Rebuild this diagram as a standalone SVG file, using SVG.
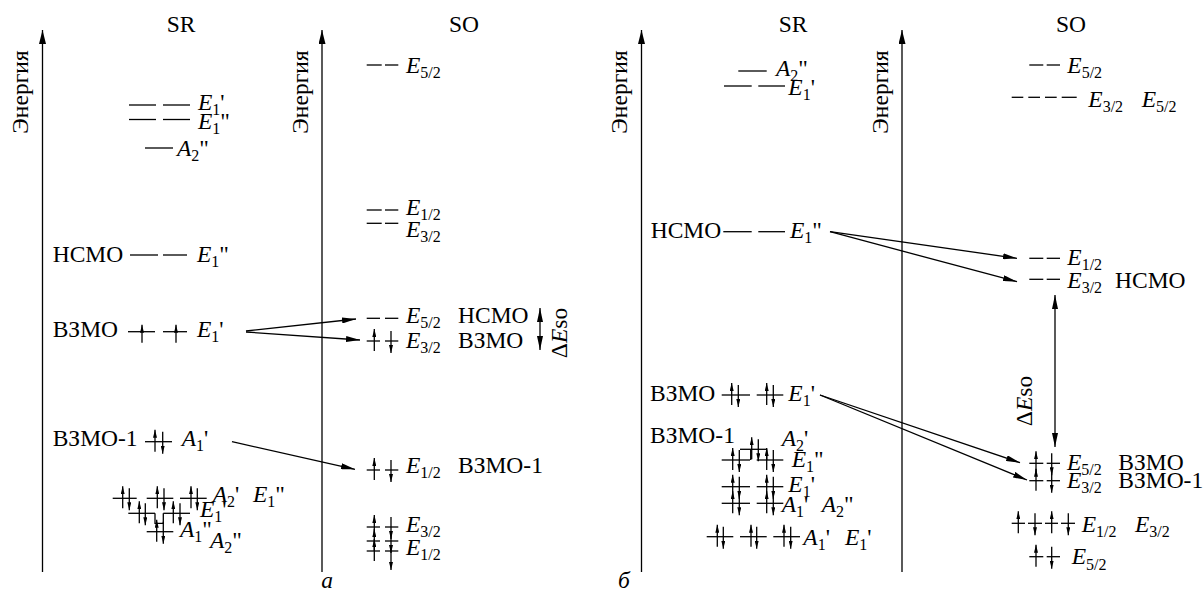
<svg xmlns="http://www.w3.org/2000/svg" width="1204" height="594" viewBox="0 0 1204 594" font-family="'Liberation Serif', 'Times New Roman', serif">
<style>
text{font-family:'Liberation Serif','Times New Roman',serif;font-size:23.5px;fill:#000}
.i{font-style:italic}
.s{font-size:16px}
line,path.l{stroke:#000;stroke-width:1.3;fill:none}
.ax{marker-end:url(#axh)}
.cn{marker-end:url(#ah)}
.dbl{marker-start:url(#ah);marker-end:url(#ah)}
.sp{marker-end:url(#sh)}
</style>
<defs>
<marker id="axh" markerUnits="userSpaceOnUse" markerWidth="15" markerHeight="7" refX="14" refY="3.5" orient="auto"><path d="M0,0 L14,3.5 L0,7 z" fill="#000"/></marker>
<marker id="ah" markerUnits="userSpaceOnUse" markerWidth="15" markerHeight="6" refX="14" refY="3" orient="auto-start-reverse"><path d="M0,0 L14,3 L0,6 z" fill="#000"/></marker>
<marker id="sh" markerUnits="userSpaceOnUse" markerWidth="8" markerHeight="4" refX="8" refY="2" orient="auto"><path d="M0,0 L8,2 L0,4 z" fill="#000"/></marker>
<line id="u" class="sp" x1="0" y1="10" x2="0" y2="-12"/>
<line id="d" class="sp" x1="0" y1="-10" x2="0" y2="12"/>
<line id="u2" class="sp" x1="0" y1="11" x2="0" y2="-7"/>
</defs>

<!-- Panel a axes -->
<g id="axis-a-sr">
<line class="ax" x1="42.5" y1="572" x2="42.5" y2="30"/>
<text transform="translate(28,92) rotate(-90)" text-anchor="middle">Энергия</text>
<text x="181" y="32" text-anchor="middle">SR</text>
</g>
<g id="axis-a-so">
<line class="ax" x1="322" y1="572" x2="322" y2="30"/>
<text transform="translate(307.5,92) rotate(-90)" text-anchor="middle">Энергия</text>
<text x="464" y="32" text-anchor="middle">SO</text>
</g>
<text x="327" y="588" class="i" text-anchor="middle">а</text>

<!-- Panel a SR levels -->
<g id="a-sr-e1p-top">
<line x1="129" y1="105" x2="156" y2="105"/><line x1="163" y1="105" x2="190" y2="105"/>
<text x="198" y="110"><tspan class="i">E</tspan><tspan class="s" dy="5">1</tspan><tspan dy="-5">'</tspan></text>
</g>
<g id="a-sr-e1pp-top">
<line x1="129" y1="119.5" x2="156" y2="119.5"/><line x1="163" y1="119.5" x2="190" y2="119.5"/>
<text x="198" y="129"><tspan class="i">E</tspan><tspan class="s" dy="5">1</tspan><tspan dy="-5">"</tspan></text>
</g>
<g id="a-sr-a2pp-top">
<line x1="145" y1="148" x2="173" y2="148"/>
<text x="177" y="156"><tspan class="i">A</tspan><tspan class="s" dy="5">2</tspan><tspan dy="-5">"</tspan></text>
</g>
<g id="a-sr-lumo">
<text x="52.7" y="262">НСМО</text>
<line x1="130" y1="255" x2="158" y2="255"/><line x1="163" y1="255" x2="187" y2="255"/>
<text x="197" y="262"><tspan class="i">E</tspan><tspan class="s" dy="5">1</tspan><tspan dy="-5">"</tspan></text>
</g>
<g id="a-sr-homo">
<text x="52.7" y="337">ВЗМО</text>
<line x1="128" y1="331.7" x2="155" y2="331.7"/><line x1="163" y1="331.7" x2="187" y2="331.7"/>
<use href="#u2" x="142" y="331.7"/><use href="#u2" x="176" y="331.7"/>
<text x="197" y="337"><tspan class="i">E</tspan><tspan class="s" dy="5">1</tspan><tspan dy="-5">'</tspan></text>
</g>
<g id="a-sr-homo1">
<text x="52.7" y="446">ВЗМО-1</text>
<line x1="145" y1="441.7" x2="172" y2="441.7"/>
<use href="#u" x="155" y="441.7"/><use href="#d" x="162.7" y="441.7"/>
<text x="181.7" y="446"><tspan class="i">A</tspan><tspan class="s" dy="5">1</tspan><tspan dy="-5">'</tspan></text>
</g>
<g id="a-sr-row1">
<line x1="112.7" y1="498.3" x2="136.7" y2="498.3"/><line x1="146.7" y1="498.3" x2="173.3" y2="498.3"/><line x1="180" y1="498.3" x2="206.7" y2="498.3"/>
<use href="#u" x="122.7" y="498.3"/><use href="#d" x="129.3" y="498.3"/>
<use href="#u" x="157.3" y="498.3"/><use href="#d" x="164" y="498.3"/>
<use href="#u" x="191" y="498.3"/><use href="#d" x="197.3" y="498.3"/>
<text x="212.7" y="502"><tspan class="i">A</tspan><tspan class="s" dy="5">2</tspan><tspan dy="-5">'</tspan></text>
<text x="253" y="502"><tspan class="i">E</tspan><tspan class="s" dy="5">1</tspan><tspan dy="-5">"</tspan></text>
</g>
<g id="a-sr-row2">
<line x1="128.3" y1="513.3" x2="155" y2="513.3"/><line x1="163.3" y1="513.3" x2="190" y2="513.3"/>
<path class="l" d="M155,513.3 V523.3 H163.3 V513.3"/>
<use href="#u" x="139.3" y="513.3"/><use href="#d" x="145.3" y="513.3"/>
<use href="#u" x="173.3" y="513.3"/><use href="#d" x="180" y="513.3"/>
<text x="200" y="517"><tspan class="i">E</tspan><tspan class="s" dy="5">1</tspan><tspan dy="-5">'</tspan></text>
</g>
<g id="a-sr-row3">
<line x1="146.7" y1="531.7" x2="173.3" y2="531.7"/>
<use href="#u" x="156.7" y="531.7"/><use href="#d" x="163.3" y="531.7"/>
<text x="180" y="537"><tspan class="i">A</tspan><tspan class="s" dy="5">1</tspan><tspan dy="-5">"</tspan></text>
<text x="210" y="548"><tspan class="i">A</tspan><tspan class="s" dy="5">2</tspan><tspan dy="-5">"</tspan></text>
</g>

<!-- Panel a SO levels -->
<g id="a-so-e52-top">
<line x1="366.7" y1="65" x2="381.7" y2="65"/><line x1="385" y1="65" x2="398.3" y2="65"/>
<text x="406" y="73"><tspan class="i">E</tspan><tspan class="s" dy="5">5/2</tspan></text>
</g>
<g id="a-so-e12-top">
<line x1="366.7" y1="210" x2="381.7" y2="210"/><line x1="385" y1="210" x2="398.3" y2="210"/>
<text x="406" y="215"><tspan class="i">E</tspan><tspan class="s" dy="5">1/2</tspan></text>
</g>
<g id="a-so-e32-top">
<line x1="366.7" y1="223.3" x2="381.7" y2="223.3"/><line x1="385" y1="223.3" x2="398.3" y2="223.3"/>
<text x="406" y="237"><tspan class="i">E</tspan><tspan class="s" dy="5">3/2</tspan></text>
</g>
<g id="a-so-lumo">
<line x1="366.7" y1="318.3" x2="380" y2="318.3"/><line x1="385" y1="318.3" x2="398.3" y2="318.3"/>
<text x="406" y="323"><tspan class="i">E</tspan><tspan class="s" dy="5">5/2</tspan></text>
<text x="458" y="323">НСМО</text>
</g>
<g id="a-so-homo">
<line x1="366.7" y1="341" x2="380" y2="341"/><line x1="385" y1="341" x2="398.3" y2="341"/>
<use href="#u" x="374.3" y="341"/><use href="#d" x="391" y="341"/>
<text x="406" y="348"><tspan class="i">E</tspan><tspan class="s" dy="5">3/2</tspan></text>
<text x="458" y="348">ВЗМО</text>
</g>
<g id="a-so-deso">
<text transform="translate(567,333) rotate(-90)" text-anchor="middle">Δ<tspan class="i">E</tspan>so</text>
</g>
<g id="a-so-homo1">
<line x1="366.7" y1="470" x2="380" y2="470"/><line x1="385" y1="470" x2="398.3" y2="470"/>
<use href="#u" x="374.3" y="470"/><use href="#d" x="391" y="470"/>
<text x="406" y="473"><tspan class="i">E</tspan><tspan class="s" dy="5">1/2</tspan></text>
<text x="458" y="473">ВЗМО-1</text>
</g>
<g id="a-so-low">
<line x1="366.7" y1="527" x2="380" y2="527"/><line x1="385" y1="527" x2="398.3" y2="527"/>
<line x1="366.7" y1="541" x2="380" y2="541"/><line x1="385" y1="541" x2="398.3" y2="541"/>
<line x1="366.7" y1="551" x2="380" y2="551"/><line x1="385" y1="551" x2="398.3" y2="551"/>
<use href="#u" x="374.3" y="527"/><use href="#d" x="391" y="527"/>
<use href="#u" x="374.3" y="541"/><use href="#d" x="391" y="541"/>
<use href="#u" x="374.3" y="551"/><use href="#d" x="391" y="558"/>
<text x="406" y="532"><tspan class="i">E</tspan><tspan class="s" dy="5">3/2</tspan></text>
<text x="406" y="555"><tspan class="i">E</tspan><tspan class="s" dy="5">1/2</tspan></text>
</g>

<!-- Panel b axes -->
<g id="axis-b-sr">
<line class="ax" x1="641.5" y1="572" x2="641.5" y2="30"/>
<text transform="translate(627,92) rotate(-90)" text-anchor="middle">Энергия</text>
<text x="793" y="32" text-anchor="middle">SR</text>
</g>
<g id="axis-b-so">
<line class="ax" x1="902" y1="572" x2="902" y2="30"/>
<text transform="translate(887.5,92) rotate(-90)" text-anchor="middle">Энергия</text>
<text x="1071" y="32" text-anchor="middle">SO</text>
</g>
<text x="624" y="588" class="i" text-anchor="middle">б</text>

<!-- Panel b SR levels -->
<g id="b-sr-a2pp-top">
<line x1="738.3" y1="71" x2="766.7" y2="71"/>
<text x="776" y="76"><tspan class="i">A</tspan><tspan class="s" dy="5">2</tspan><tspan dy="-5">"</tspan></text>
</g>
<g id="b-sr-e1p-top">
<line x1="724" y1="86" x2="751.7" y2="86"/><line x1="758.3" y1="86" x2="785" y2="86"/>
<text x="788.3" y="95"><tspan class="i">E</tspan><tspan class="s" dy="5">1</tspan><tspan dy="-5">'</tspan></text>
</g>
<g id="b-sr-lumo">
<text x="650.7" y="238.3">НСМО</text>
<line x1="723.3" y1="231.7" x2="751.7" y2="231.7"/><line x1="758.3" y1="231.7" x2="785" y2="231.7"/>
<text x="790" y="238.3"><tspan class="i">E</tspan><tspan class="s" dy="5">1</tspan><tspan dy="-5">"</tspan></text>
</g>
<g id="b-sr-homo">
<text x="650" y="400.7">ВЗМО</text>
<line x1="721.7" y1="395" x2="750" y2="395"/><line x1="756.7" y1="395" x2="783.3" y2="395"/>
<use href="#u" x="731.7" y="395"/><use href="#d" x="738.3" y="395"/>
<use href="#u" x="766.7" y="395"/><use href="#d" x="773.3" y="395"/>
<text x="788.3" y="400.7"><tspan class="i">E</tspan><tspan class="s" dy="5">1</tspan><tspan dy="-5">'</tspan></text>
</g>
<g id="b-sr-homo1">
<text x="650" y="443.3">ВЗМО-1</text>
<line x1="740" y1="449.3" x2="766.7" y2="449.3"/>
<path class="l" d="M750.7,460 V449.3 M766.7,449.3 V460"/>
<use href="#u" x="751.7" y="449.3"/><use href="#d" x="758.3" y="449.3"/>
<text x="781.7" y="446"><tspan class="i">A</tspan><tspan class="s" dy="5">2</tspan><tspan dy="-5">'</tspan></text>
</g>
<g id="b-sr-e1pp">
<line x1="721.7" y1="460" x2="750" y2="460"/><line x1="756.7" y1="460" x2="783.3" y2="460"/>
<use href="#u" x="732.7" y="460"/><use href="#d" x="739.3" y="460"/>
<use href="#u" x="766.7" y="460"/><use href="#d" x="773.3" y="460"/>
<text x="791.7" y="466.7"><tspan class="i">E</tspan><tspan class="s" dy="5">1</tspan><tspan dy="-5">"</tspan></text>
</g>
<g id="b-sr-e1p">
<line x1="721.7" y1="486.7" x2="750" y2="486.7"/><line x1="756.7" y1="486.7" x2="783.3" y2="486.7"/>
<use href="#u" x="732.7" y="486.7"/><use href="#d" x="739.3" y="486.7"/>
<use href="#u" x="766.7" y="486.7"/><use href="#d" x="773.3" y="486.7"/>
<text x="788.3" y="491.7"><tspan class="i">E</tspan><tspan class="s" dy="5">1</tspan><tspan dy="-5">'</tspan></text>
</g>
<g id="b-sr-a1p-a2pp">
<line x1="721.7" y1="503.3" x2="750" y2="503.3"/><line x1="756.7" y1="503.3" x2="783.3" y2="503.3"/>
<use href="#u" x="732.7" y="503.3"/><use href="#d" x="739.3" y="503.3"/>
<use href="#u" x="766.7" y="503.3"/><use href="#d" x="773.3" y="503.3"/>
<text x="781.7" y="511.7"><tspan class="i">A</tspan><tspan class="s" dy="5">1</tspan><tspan dy="-5">'</tspan></text>
<text x="821.7" y="511.7"><tspan class="i">A</tspan><tspan class="s" dy="5">2</tspan><tspan dy="-5">"</tspan></text>
</g>
<g id="b-sr-bottom">
<line x1="706.7" y1="536.7" x2="733.3" y2="536.7"/><line x1="740" y1="536.7" x2="766.7" y2="536.7"/><line x1="773.3" y1="536.7" x2="800" y2="536.7"/>
<use href="#u" x="717.3" y="536.7"/><use href="#d" x="723.3" y="536.7"/>
<use href="#u" x="751" y="536.7"/><use href="#d" x="756.7" y="536.7"/>
<use href="#u" x="784" y="536.7"/><use href="#d" x="790.7" y="536.7"/>
<text x="803.3" y="545"><tspan class="i">A</tspan><tspan class="s" dy="5">1</tspan><tspan dy="-5">'</tspan></text>
<text x="845" y="545"><tspan class="i">E</tspan><tspan class="s" dy="5">1</tspan><tspan dy="-5">'</tspan></text>
</g>

<!-- Panel b SO levels -->
<g id="b-so-e52-top">
<line x1="1029.3" y1="65" x2="1043.3" y2="65"/><line x1="1046.7" y1="65" x2="1060" y2="65"/>
<text x="1067.3" y="73.3"><tspan class="i">E</tspan><tspan class="s" dy="5">5/2</tspan></text>
</g>
<g id="b-so-e32-e52-top">
<line x1="1011.7" y1="97.3" x2="1023.3" y2="97.3"/><line x1="1028.3" y1="97.3" x2="1040" y2="97.3"/><line x1="1045" y1="97.3" x2="1056.7" y2="97.3"/><line x1="1061.7" y1="97.3" x2="1076.7" y2="97.3"/>
<text x="1088.3" y="106.7"><tspan class="i">E</tspan><tspan class="s" dy="5">3/2</tspan></text>
<text x="1141.7" y="106.7"><tspan class="i">E</tspan><tspan class="s" dy="5">5/2</tspan></text>
</g>
<g id="b-so-e12">
<line x1="1029.3" y1="258.3" x2="1043.3" y2="258.3"/><line x1="1046.7" y1="258.3" x2="1060" y2="258.3"/>
<text x="1067.3" y="265"><tspan class="i">E</tspan><tspan class="s" dy="5">1/2</tspan></text>
</g>
<g id="b-so-lumo">
<line x1="1029.3" y1="279.3" x2="1043.3" y2="279.3"/><line x1="1046.7" y1="279.3" x2="1060" y2="279.3"/>
<text x="1067.3" y="288.3"><tspan class="i">E</tspan><tspan class="s" dy="5">3/2</tspan></text>
<text x="1115" y="288.3">НСМО</text>
</g>
<g id="b-so-deso">
<text transform="translate(1032,401) rotate(-90)" text-anchor="middle">Δ<tspan class="i">E</tspan>so</text>
</g>
<g id="b-so-homo">
<line x1="1029.3" y1="463.3" x2="1043.3" y2="463.3"/><line x1="1046.7" y1="463.3" x2="1060" y2="463.3"/>
<use href="#u" x="1036" y="463.3"/><use href="#d" x="1051.7" y="463.3"/>
<text x="1067" y="470"><tspan class="i">E</tspan><tspan class="s" dy="5">5/2</tspan></text>
<text x="1118.3" y="470">ВЗМО</text>
</g>
<g id="b-so-homo1">
<line x1="1029.3" y1="480.7" x2="1043.3" y2="480.7"/><line x1="1046.7" y1="480.7" x2="1060" y2="480.7"/>
<use href="#u" x="1036" y="480.7"/><use href="#d" x="1051.7" y="480.7"/>
<text x="1067" y="488.3"><tspan class="i">E</tspan><tspan class="s" dy="5">3/2</tspan></text>
<text x="1118.3" y="488.3">ВЗМО-1</text>
</g>
<g id="b-so-e12-e32">
<line x1="1011.7" y1="523.3" x2="1025" y2="523.3"/><line x1="1028" y1="523.3" x2="1042" y2="523.3"/><line x1="1045" y1="523.3" x2="1058" y2="523.3"/><line x1="1061" y1="523.3" x2="1075" y2="523.3"/>
<use href="#u" x="1018.3" y="523.3"/><use href="#d" x="1035" y="523.3"/><use href="#u" x="1051.7" y="523.3"/><use href="#d" x="1068.3" y="523.3"/>
<text x="1081.7" y="531.7"><tspan class="i">E</tspan><tspan class="s" dy="5">1/2</tspan></text>
<text x="1135" y="531.7"><tspan class="i">E</tspan><tspan class="s" dy="5">3/2</tspan></text>
</g>
<g id="b-so-e52-bottom">
<line x1="1029.3" y1="556.7" x2="1043.3" y2="556.7"/><line x1="1046.7" y1="556.7" x2="1060" y2="556.7"/>
<use href="#u" x="1036" y="556.7"/><use href="#d" x="1051.7" y="556.7"/>
<text x="1071.7" y="564"><tspan class="i">E</tspan><tspan class="s" dy="6">5/2</tspan></text>
</g>

<!-- Connectors -->
<g id="connectors">
<line class="cn" x1="246" y1="331" x2="356" y2="319"/>
<line class="cn" x1="246" y1="332" x2="360" y2="340"/>
<line class="cn" x1="232" y1="441.7" x2="355" y2="469.3"/>
<line class="dbl" x1="540" y1="308" x2="540" y2="350"/>
<line class="cn" x1="830" y1="231.7" x2="1017" y2="258.3"/>
<line class="cn" x1="830" y1="231.7" x2="1017" y2="281.7"/>
<line class="cn" x1="820" y1="395" x2="1020" y2="462.7"/>
<line class="cn" x1="820" y1="395" x2="1027" y2="480"/>
<line class="dbl" x1="1055" y1="295" x2="1055" y2="447"/>
</g>
</svg>
